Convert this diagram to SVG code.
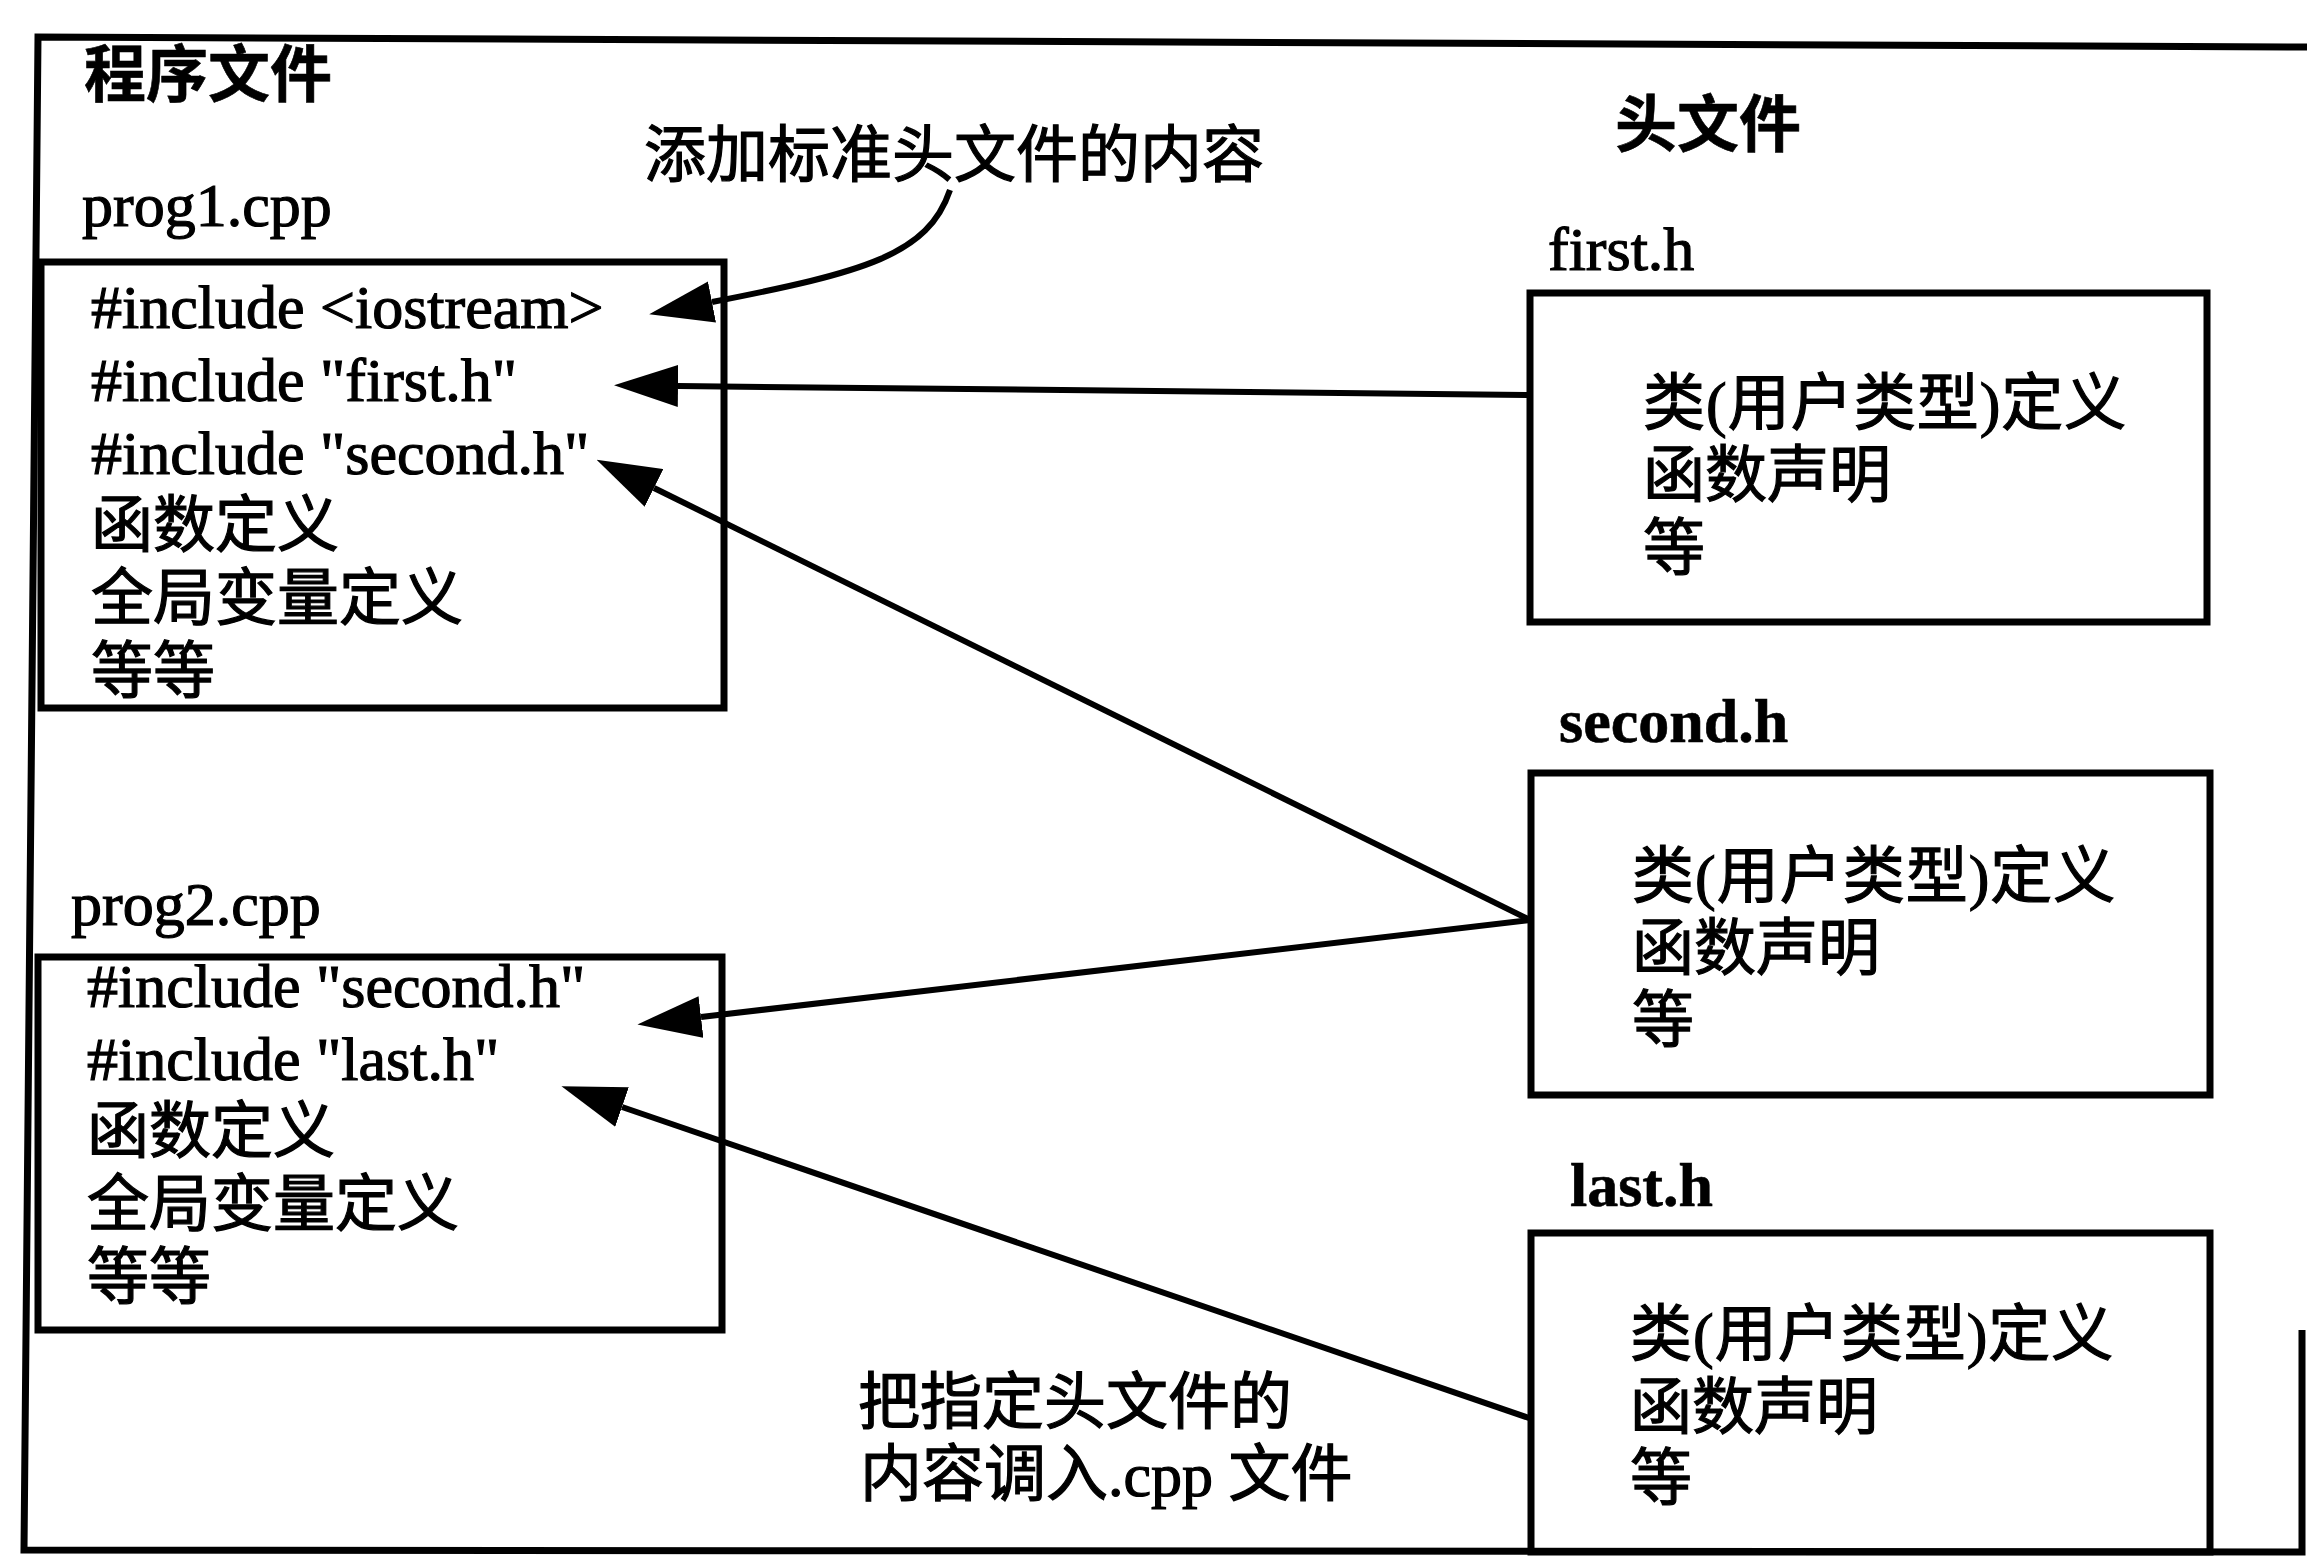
<svg xmlns="http://www.w3.org/2000/svg" width="2307" height="1560" viewBox="0 0 2307 1560">
<style>
.t{font-family:"Liberation Serif","Noto Sans CJK SC",serif;font-size:62px;fill:#000;stroke:#000;stroke-width:1.2}
.b{font-weight:bold;stroke-width:0.6}
.box{fill:none;stroke:#000;stroke-width:7}
.con{fill:none;stroke:#000;stroke-width:6}
.wide{letter-spacing:1px}
</style>
<defs>
<marker id="ah" viewBox="0 0 64 42" refX="0" refY="21" markerWidth="64" markerHeight="42" markerUnits="userSpaceOnUse" orient="auto">
<path d="M0,0 L64,21 L0,42 Z" fill="#000"/>
</marker>
</defs>
<rect width="2307" height="1560" fill="#fff"/>
<g id="frame">
<path class="box" d="M2307,47 L38,37 L24,1550 L2302,1552 L2302,1330"/>
<text class="t b" x="84" y="97">程序文件</text>
<text class="t b" x="1615" y="147">头文件</text>
<text class="t" x="644" y="177">添加标准头文件的内容</text>
<text class="t" x="858" y="1424">把指定头文件的</text>
<text class="t" x="860" y="1496">内容调入.cpp 文件</text>
</g>
<g id="prog1">
<text class="t" x="82" y="226">prog1.cpp</text>
<rect class="box" x="41" y="262" width="683" height="446"/>
<text class="t" x="91" y="328">#include &lt;iostream&gt;</text>
<text class="t" x="91" y="401">#include "first.h"</text>
<text class="t" x="91" y="474">#include "second.h"</text>
<text class="t" x="91" y="547">函数定义</text>
<text class="t" x="91" y="620">全局变量定义</text>
<text class="t" x="91" y="693">等等</text>
</g>
<g id="prog2">
<text class="t" x="71" y="925">prog2.cpp</text>
<rect class="box" x="38" y="957" width="684" height="373"/>
<text class="t" x="87" y="1007">#include "second.h"</text>
<text class="t" x="87" y="1080">#include "last.h"</text>
<text class="t" x="87" y="1153">函数定义</text>
<text class="t" x="87" y="1226">全局变量定义</text>
<text class="t" x="87" y="1299">等等</text>
</g>
<g id="first_h">
<text class="t" x="1548" y="270">first.h</text>
<rect class="box" x="1530" y="293" width="677" height="329"/>
<text class="t wide" x="1643" y="425">类(用户类型)定义</text>
<text class="t" x="1643" y="497">函数声明</text>
<text class="t" x="1643" y="570">等</text>
</g>
<g id="second_h">
<text class="t b" x="1559" y="742">second.h</text>
<rect class="box" x="1531" y="773" width="679" height="322"/>
<text class="t wide" x="1632" y="898">类(用户类型)定义</text>
<text class="t" x="1632" y="970">函数声明</text>
<text class="t" x="1632" y="1042">等</text>
</g>
<g id="last_h">
<text class="t b" x="1570" y="1206">last.h</text>
<rect class="box" x="1531" y="1233" width="679" height="319"/>
<text class="t wide" x="1630" y="1356">类(用户类型)定义</text>
<text class="t" x="1630" y="1429">函数声明</text>
<text class="t" x="1630" y="1500">等</text>
</g>
<g id="connectors">
<path class="con" d="M950,190 C928,255 865,272 712,302" marker-end="url(#ah)"/>
<path class="con" d="M1530,395 L678,386" marker-end="url(#ah)"/>
<path class="con" d="M1530,920 L654,488" marker-end="url(#ah)"/>
<path class="con" d="M1530,920 L701,1017" marker-end="url(#ah)"/>
<path class="con" d="M1529,1418 L622,1107" marker-end="url(#ah)"/>
</g>
</svg>
